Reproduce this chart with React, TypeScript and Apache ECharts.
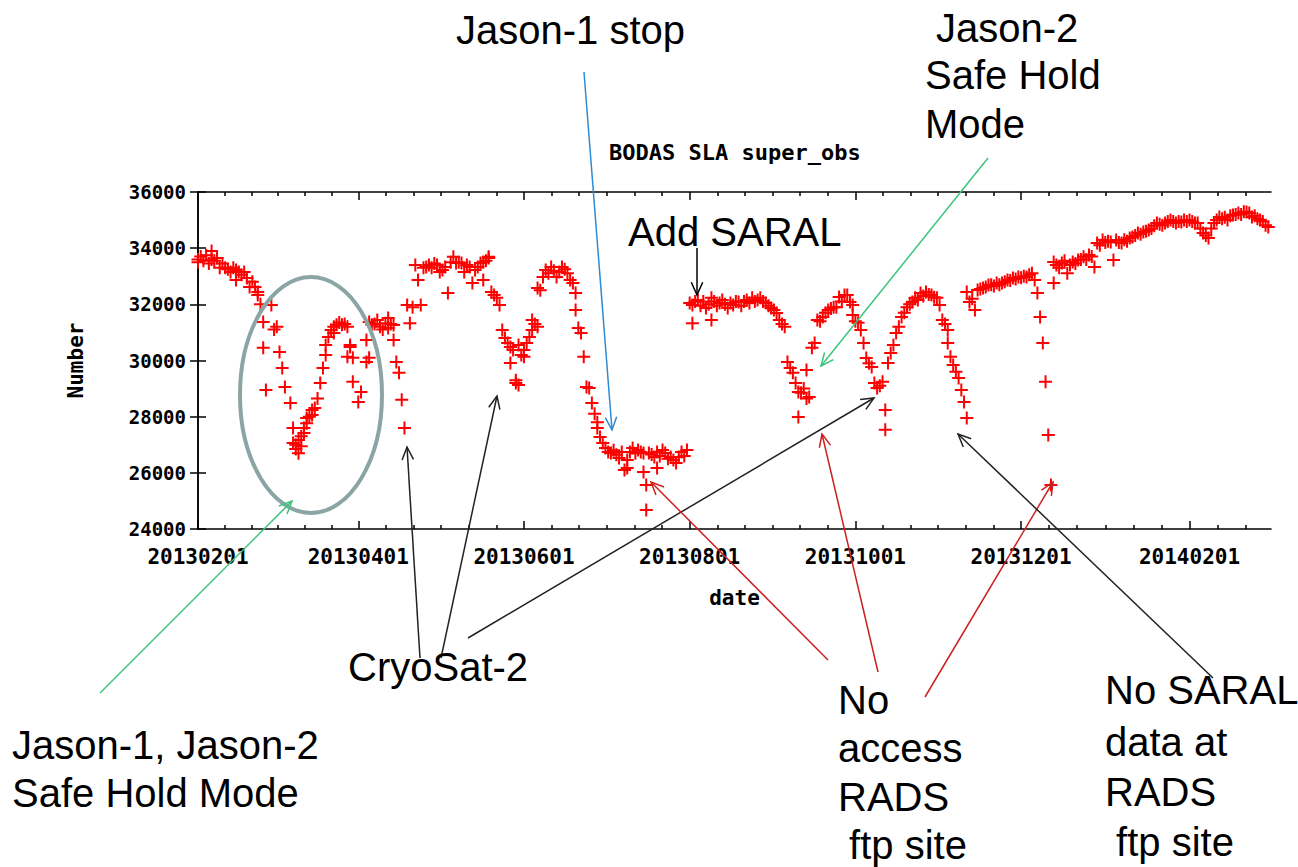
import React, { useEffect, useRef } from "react";
import * as echarts from "echarts";

// ---- axes ----
const xTickDays = [0, 59, 120, 181, 242, 303, 365]; // days since 2013-02-01
const xTickLabels = ["20130201", "20130401", "20130601", "20130801", "20131001", "20131201", "20140201"];
const xMaxDay = 395;
const yMin = 24000;
const yMax = 36000;
const yStep = 2000;

// ---- observations: [day since 2013-02-01, number of super_obs] ----
const obsFebApr: [number, number][] = [
  [0, 33600], [0, 33500], [1, 33700], [2, 33550], [3, 33750], [4, 33450], [5, 33900], [5, 33600],
  [6, 33550], [7, 33650], [8, 33300], [9, 33450], [10, 33300], [11, 33250], [12, 33150], [13, 33300],
  [14, 33220], [14, 32870], [15, 33150], [16, 33050], [17, 33150], [18, 32940], [19, 32620], [20, 32800],
  [21, 32620], [22, 32440], [22, 32330], [23, 32000], [24, 31370], [24, 30450], [25, 28950], [27, 31980],
  [28, 31100], [29, 31200], [30, 30300], [31, 29730], [32, 29060], [34, 28490], [35, 27600], [35, 27060],
  [36, 27000], [36, 26850], [37, 26700], [37, 27170], [38, 26950], [38, 27300], [39, 27420], [39, 27600],
  [40, 27770], [40, 27950], [41, 28000], [42, 28060], [42, 28240], [43, 28310], [44, 28650], [45, 29200],
  [46, 29730], [47, 30200], [47, 30550], [48, 30840], [49, 31090], [50, 31200], [50, 30980], [51, 31270],
  [52, 31350], [53, 31270], [54, 31300], [55, 31200], [55, 30130], [56, 30480], [56, 30550], [57, 29240],
  [57, 30100], [59, 28520], [60, 28880], [62, 29950], [62, 30730], [63, 30100], [63, 31370], [64, 31270],
  [65, 31300], [66, 31440], [67, 31200], [68, 31100], [69, 31330], [70, 31510], [70, 31160], [71, 31300],
  [72, 31260], [72, 30730], [73, 29950], [74, 29560], [75, 28600], [76, 27600],
];

const obsAprJul: [number, number][] = [
  [77, 31980], [78, 31330], [79, 31900], [80, 33400], [81, 32870], [82, 31980], [83, 33300], [84, 33330],
  [85, 33400], [86, 33300], [87, 33450], [88, 33400], [89, 33150], [90, 33220], [91, 33330], [92, 32400],
  [93, 33500], [94, 33690], [95, 33470], [96, 33500], [97, 33470], [98, 33150], [99, 33400], [100, 33330],
  [101, 32760], [102, 33220], [103, 33330], [104, 33470], [105, 33500], [105, 32870], [106, 33550], [107, 33650],
  [107, 33690], [108, 32440], [109, 32330], [110, 32230], [111, 31980], [112, 31090], [113, 30800], [114, 30620],
  [115, 30480], [115, 29910], [116, 30370], [117, 29200], [117, 29300], [118, 29130], [118, 30550], [119, 30200],
  [120, 30370], [120, 30130], [121, 30620], [122, 30840], [123, 31090], [123, 31440], [124, 31300], [125, 31200],
  [125, 32580], [126, 32500], [127, 32970], [128, 33220], [129, 33110], [130, 33330], [131, 33200], [132, 32970],
  [133, 33150], [134, 33330], [135, 33250], [136, 33110], [137, 32870], [138, 32760], [139, 32400], [139, 31800],
  [140, 31160], [141, 30980], [142, 30130], [143, 29060], [144, 29020], [145, 28490], [146, 28100], [147, 27800],
  [147, 27600], [148, 27280], [149, 27060], [150, 26880], [151, 26740], [152, 26710], [153, 26800], [154, 26640],
  [155, 26530], [156, 26740], [157, 26100], [158, 26460], [158, 26170], [159, 26740], [160, 26880], [161, 26700],
  [162, 26810], [163, 26740], [164, 26710], [164, 26030], [165, 25570], [165, 24680], [166, 26710], [167, 26650],
  [168, 26560], [169, 26170], [169, 26740], [170, 26600], [171, 26810], [172, 26710], [173, 26500], [174, 26560],
  [175, 26460], [176, 26350], [177, 26560], [178, 26740], [179, 26600], [180, 26810],
];

const obsAugOct: [number, number][] = [
  [181, 32050], [182, 31980], [182, 31330], [183, 32100], [184, 32150], [185, 31950], [186, 32100], [187, 31870],
  [188, 32000], [189, 31440], [189, 32230], [190, 32100], [191, 31950], [192, 32050], [193, 32150], [194, 32000],
  [195, 31870], [196, 32050], [197, 31980], [198, 32100], [199, 32080], [200, 31950], [201, 32100], [202, 32150],
  [203, 32050], [204, 32230], [205, 32100], [206, 32150], [207, 32230], [208, 32100], [209, 32050], [210, 31950],
  [211, 31870], [212, 31800], [213, 31690], [214, 31440], [215, 31300], [216, 31200], [217, 29950], [218, 29730],
  [219, 29560], [220, 29200], [221, 27990], [221, 28880], [222, 28850], [223, 29000], [224, 28650], [224, 29660],
  [225, 28700], [226, 30450], [227, 30620], [228, 31440], [229, 31400], [230, 31550], [231, 31700], [232, 31800],
  [233, 31850], [234, 31900], [235, 31900], [236, 32260], [237, 32100], [238, 32330], [239, 32330], [240, 32080],
  [241, 31980], [241, 31620], [242, 31400], [243, 31340], [244, 31090], [245, 30620], [246, 30090], [247, 29900],
  [248, 29770], [249, 29200], [250, 29020], [251, 29100], [252, 29240], [253, 28240], [253, 27530],
];

const obsNovMar: [number, number][] = [
  [254, 29910], [255, 30270], [256, 30550], [257, 30980], [258, 31200], [259, 31550], [260, 31700], [261, 31900],
  [262, 32000], [263, 32080], [264, 32230], [265, 32150], [266, 32400], [267, 32300], [268, 32440], [269, 32350],
  [270, 32330], [271, 32250], [272, 32230], [273, 31980], [274, 31440], [275, 31300], [276, 31090], [276, 30620],
  [277, 30130], [278, 29840], [279, 29600], [280, 29380], [281, 28950], [282, 28520], [283, 27950],
  [283, 32440], [284, 32080], [285, 32200], [286, 31800], [287, 32510], [288, 32550], [289, 32580], [290, 32620],
  [291, 32690], [292, 32700], [293, 32650], [294, 32760], [295, 32700], [296, 32760], [297, 32800], [298, 32870],
  [299, 32850], [300, 32940], [301, 32900], [302, 32970], [303, 32950], [304, 33000], [305, 32970], [306, 33050],
  [307, 33110], [308, 32870], [309, 32400], [310, 31550], [311, 30620], [312, 29240], [313, 27350], [314, 25570],
  [315, 33510], [315, 32760], [316, 33400], [317, 33300], [318, 33470], [319, 33550], [320, 33110], [321, 33400],
  [322, 33510], [323, 33450], [324, 33580], [325, 33600], [326, 33690], [327, 33600], [328, 33760], [329, 33700],
  [330, 33330], [331, 34180], [332, 34100], [333, 34290], [334, 34200], [335, 34250], [336, 34220], [337, 33580],
  [338, 34290], [339, 34200], [340, 34180], [341, 34300], [342, 34250], [343, 34360], [344, 34400], [345, 34450],
  [346, 34540], [347, 34500], [348, 34580], [349, 34600], [350, 34650], [351, 34700], [352, 34800], [353, 34900],
  [354, 34850], [355, 34820], [356, 34900], [357, 34950], [358, 35000], [359, 34950], [360, 34900], [361, 34950],
  [362, 34930], [363, 35000], [364, 34950], [365, 35000], [366, 34950], [367, 34900], [368, 34900], [369, 34700],
  [370, 34540], [371, 34450], [372, 34360], [373, 34700], [374, 34900], [375, 35000], [376, 35110], [377, 35050],
  [378, 35100], [379, 35000], [380, 35150], [381, 35180], [382, 35200], [383, 35250], [384, 35200], [385, 35300],
  [386, 35290], [387, 35250], [388, 35110], [389, 35150], [390, 35050], [391, 35000], [392, 34950], [393, 34820],
  [394, 34750],
];

// ---- styling ----
const MONO = "DejaVu Sans Mono";
const SANS = "Liberation Sans";
const PLUS = "path://M5.5,0H7.5V5.5H13V7.5H7.5V13H5.5V7.5H0V5.5H5.5Z";

function minorTickDays(): number[] {
  const out: number[] = [];
  for (let i = 0; i < xTickDays.length; i++) {
    const a = xTickDays[i];
    if (i + 1 < xTickDays.length) {
      const step = (xTickDays[i + 1] - a) / 6;
      for (let k = 1; k < 6; k++) out.push(a + k * step);
    } else {
      const step = (a - xTickDays[i - 1]) / 6;
      for (let v = a + step; v < xMaxDay - 1; v += step) out.push(v);
    }
  }
  return out;
}

function arrow(x1: number, y1: number, x2: number, y2: number, color: string, width = 1.5, head = 14) {
  const a = Math.atan2(y2 - y1, x2 - x1);
  const sp = 0.42;
  const p1 = [x2 - head * Math.cos(a - sp), y2 - head * Math.sin(a - sp)];
  const p2 = [x2 - head * Math.cos(a + sp), y2 - head * Math.sin(a + sp)];
  return [
    { type: "line", z: 100, shape: { x1, y1, x2, y2 }, style: { stroke: color, lineWidth: width } },
    { type: "polyline", z: 100, shape: { points: [p1, [x2, y2], p2] }, style: { stroke: color, lineWidth: width, fill: null } },
  ];
}

function note(text: string, x: number, y: number) {
  return {
    type: "text",
    z: 100,
    x,
    y,
    style: {
      text,
      fill: "#000",
      fontSize: 40,
      fontFamily: SANS,
      textAlign: "left",
      align: "left",
      textVerticalAlign: "middle",
      verticalAlign: "middle",
    },
  };
}

export default function App() {
  const ref = useRef<HTMLDivElement>(null);

  useEffect(() => {
    if (!ref.current) return;
    const chart = echarts.init(ref.current, undefined, { renderer: "svg" });
    const minor = minorTickDays();
    const axisLineStyle = { color: "#000", width: 1.5 };
    const labelFont = { fontFamily: MONO, fontWeight: "bold" as const, fontSize: 21, color: "#000" };

    const xCommon = { type: "value", min: 0, max: xMaxDay, splitLine: { show: false } };

    const option: any = {
      animation: false,
      backgroundColor: "#fff",
      title: {
        text: "BODAS SLA super_obs",
        left: 609,
        top: 141,
        padding: 0,
        textStyle: { ...labelFont, fontSize: 22 },
      },
      grid: { left: 198, right: 27, top: 192, bottom: 338, containLabel: false },
      xAxis: [
        {
          ...xCommon,
          position: "bottom",
          axisLine: { show: true, lineStyle: axisLineStyle },
          axisTick: { show: true, inside: true, length: 8, customValues: xTickDays, lineStyle: axisLineStyle },
          axisLabel: {
            ...labelFont,
            margin: 17,
            customValues: xTickDays,
            formatter: (v: number) => {
              const i = xTickDays.indexOf(Math.round(v));
              return i >= 0 ? xTickLabels[i] : "";
            },
          },
          name: "date",
          nameLocation: "middle",
          nameGap: 58,
          nameTextStyle: labelFont,
        },
        {
          ...xCommon,
          position: "bottom",
          axisLine: { show: false },
          axisTick: { show: true, inside: true, length: 4, customValues: minor, lineStyle: axisLineStyle },
          axisLabel: { show: false },
        },
        {
          ...xCommon,
          position: "top",
          axisLine: { show: true, lineStyle: axisLineStyle },
          axisTick: { show: true, inside: true, length: 8, customValues: xTickDays, lineStyle: axisLineStyle },
          axisLabel: { show: false },
        },
        {
          ...xCommon,
          position: "top",
          axisLine: { show: false },
          axisTick: { show: true, inside: true, length: 4, customValues: minor, lineStyle: axisLineStyle },
          axisLabel: { show: false },
        },
      ],
      yAxis: [
        {
          type: "value",
          position: "left",
          min: yMin,
          max: yMax,
          interval: yStep,
          splitLine: { show: false },
          axisLine: { show: true, lineStyle: axisLineStyle },
          axisTick: { show: true, inside: true, length: 8, lineStyle: axisLineStyle },
          axisLabel: { ...labelFont, fontSize: 19, margin: 12, formatter: (v: number) => String(v) },
          name: "Number",
          nameLocation: "middle",
          nameGap: 112,
          nameTextStyle: labelFont,
        },
        {
          type: "value",
          position: "right",
          min: yMin,
          max: yMax,
          interval: yStep,
          splitLine: { show: false },
          axisLine: { show: true, lineStyle: axisLineStyle },
          axisTick: { show: true, inside: true, length: 8, lineStyle: axisLineStyle },
          axisLabel: { show: false },
        },
      ],
      series: [
        {
          name: "super_obs",
          type: "scatter",
          xAxisIndex: 0,
          yAxisIndex: 0,
          symbol: PLUS,
          symbolSize: 13,
          itemStyle: { color: "#ff0000", opacity: 1 },
          data: [...obsFebApr, ...obsAprJul, ...obsAugOct, ...obsNovMar],
        },
      ],
      graphic: [
        {
          type: "ellipse",
          z: 90,
          shape: { cx: 311, cy: 395, rx: 71, ry: 118 },
          style: { fill: null, stroke: "#8ba5a5", lineWidth: 4 },
        },
        ...arrow(584, 72, 612, 430, "#2f8ad2"),
        ...arrow(697, 248, 697, 295, "#000"),
        ...arrow(988, 158, 821, 366, "#3cc47c"),
        ...arrow(100, 693, 292, 501, "#3cc47c"),
        ...arrow(420, 658, 407, 447, "#222"),
        ...arrow(441, 658, 497, 396, "#222"),
        ...arrow(468, 638, 874, 398, "#222"),
        ...arrow(828, 660, 651, 482, "#cc2020"),
        ...arrow(878, 672, 822, 434, "#cc2020"),
        ...arrow(925, 697, 1053, 482, "#cc2020"),
        ...arrow(1213, 678, 958, 434, "#222"),
        note("Jason-1 stop", 456, 30),
        note("Jason-2", 936, 28),
        note("Safe Hold", 925, 75),
        note("Mode", 925, 124),
        note("Add SARAL", 628, 232),
        note("CryoSat-2", 348, 667),
        note("Jason-1, Jason-2", 12, 745),
        note("Safe Hold Mode", 12, 793),
        note("No", 838, 700),
        note("access", 838, 748),
        note("RADS", 838, 797),
        note(" ftp site", 838, 845),
        note("No SARAL", 1105, 690),
        note("data at", 1105, 742),
        note("RADS", 1105, 792),
        note(" ftp site", 1105, 842),
      ],
    };

    chart.setOption(option);
    return () => chart.dispose();
  }, []);

  return (
    <div
      ref={ref}
      style={{ position: "fixed", left: 0, top: 0, width: 1298, height: 867, background: "#fff" }}
    />
  );
}
